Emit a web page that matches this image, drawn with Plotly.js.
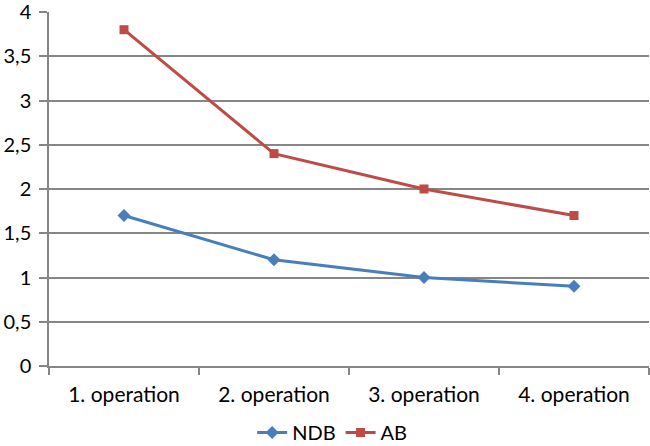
<!DOCTYPE html>
<html><head><meta charset="utf-8">
<script src="https://cdn.plot.ly/plotly-3.0.1.min.js"></script>
<style>html,body{margin:0;padding:0;background:#fff}#c{width:650px;height:446px}</style>
</head><body><div id="c"></div>
<script>
const categories = ["1. operation", "2. operation", "3. operation", "4. operation"];
const ndb = [1.7, 1.2, 1.0, 0.9];
const ab = [3.8, 2.4, 2.0, 1.7];
const yTicks = [0, 0.5, 1, 1.5, 2, 2.5, 3, 3.5, 4];

const traces = [
  {x: categories, y: ndb, name: "NDB", type: "scatter", mode: "lines+markers",
   line: {color: "#4A7EBB", width: 3}, marker: {symbol: "diamond", size: 10, color: "#4A7EBB"}},
  {x: categories, y: ab, name: "AB", type: "scatter", mode: "lines+markers",
   line: {color: "#BE4B48", width: 3}, marker: {symbol: "square", size: 9, color: "#BE4B48"}}
];
const layout = {
  width: 650, height: 446,
  margin: {l: 49, r: 1, t: 12, b: 80},
  separators: ",.",
  paper_bgcolor: "#fff", plot_bgcolor: "#fff",
  font: {family: "Lato, 'Open Sans', sans-serif", size: 21, color: "#000"},
  xaxis: {type: "category", range: [-0.5, 3.5], showgrid: false, showline: true, linecolor: "#868686", linewidth: 1.5,
          ticks: "outside", tickson: "boundaries", ticklen: 7, tickcolor: "#868686", tickwidth: 1.5, zeroline: false,
          automargin: false, ticklabelstandoff: 9},
  yaxis: {range: [0, 4], tickvals: yTicks, showgrid: true, gridcolor: "#868686", gridwidth: 1.5,
          showline: true, linecolor: "#868686", linewidth: 1.5, ticks: "outside", ticklen: 8, tickcolor: "#868686", tickwidth: 1.5,
          zeroline: false, ticklabelstandoff: 4, ticklabeloverflow: "allow", automargin: false, tickfont: {size: 20}},
  showlegend: true,
  legend: {orientation: "h", x: 0.511, xref: "container", xanchor: "center", y: 0.03, yref: "container", yanchor: "middle",
           font: {size: 20}, itemwidth: 30, tracegroupgap: 0}
};
Plotly.newPlot("c", traces, layout, {displayModeBar: false});
</script></body></html>
